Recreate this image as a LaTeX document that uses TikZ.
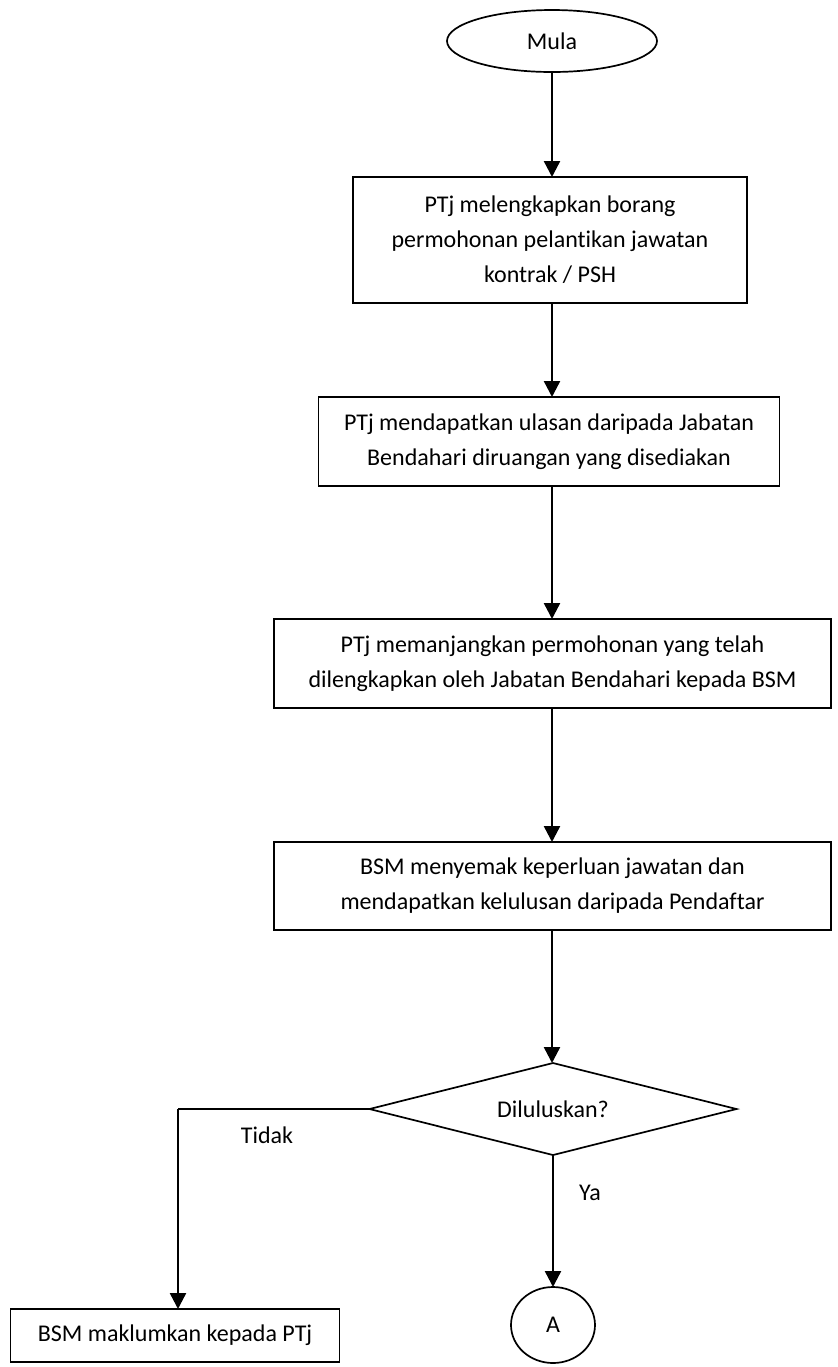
\documentclass[tikz,border=0pt]{standalone}
\usepackage{fontspec}
\setmainfont[Ligatures={NoCommon}]{Carlito}
\usetikzlibrary{shapes.geometric,arrows.meta}
\begin{document}
\begin{tikzpicture}[x=0.5pt,y=-0.5pt,
  every node/.style={font=\fontsize{12}{17.5}\selectfont, inner sep=0pt, outer sep=0pt},
  procbox/.style={draw, line width=0.85pt, rectangle, align=center},
  term/.style={draw, line width=0.85pt, ellipse},
  arr/.style={line width=1.2pt, -{Triangle[width=8pt,length=8pt]}},
  lbl/.style={}]
\useasboundingbox (0,0) rectangle (837,1367);
\node[term, minimum width=105pt, minimum height=31pt] (mula) at (552,41) {Mula};
\node[procbox, minimum width=197pt, minimum height=63pt] (b1) at (550,240)
  {PTj melengkapkan borang\\permohonan pelantikan jawatan\\kontrak / PSH};
\node[procbox, minimum width=230.5pt, minimum height=44.5pt] (b2) at (549,441.5)
  {PTj mendapatkan ulasan daripada Jabatan\\Bendahari diruangan yang disediakan};
\node[procbox, minimum width=278.5pt, minimum height=44.5pt] (b3) at (552.5,663.5)
  {PTj memanjangkan permohonan yang telah\\dilengkapkan oleh Jabatan Bendahari kepada BSM};
\node[procbox, minimum width=278.5pt, minimum height=44pt] (b4) at (552.5,886)
  {BSM menyemak keperluan jawatan dan\\mendapatkan kelulusan daripada Pendaftar};
\node[draw, line width=0.85pt, shape=diamond, aspect=4, minimum width=183.5pt, minimum height=46pt, inner sep=0pt] (dia) at (553,1109) {Diluluskan?};
\node[term, minimum width=42pt, minimum height=38pt] (A) at (553,1325) {A};
\node[procbox, minimum width=164.5pt, minimum height=26.5pt] (b5) at (175,1335.5) {BSM maklumkan kepada PTj};
\coordinate (turn) at (178,1109);
\draw[arr] (mula.south) -- (mula.south |- b1.north);
\draw[arr] (b1.south -| mula.south) -- (mula.south |- b2.north);
\draw[arr] (b2.south -| mula.south) -- (mula.south |- b3.north);
\draw[arr] (b3.south -| mula.south) -- (mula.south |- b4.north);
\draw[arr] (b4.south -| mula.south) -- (mula.south |- dia.north);
\draw[arr] (dia.south) -- (A.north);
\draw[line width=1.2pt] (dia.west) -- (turn);
\draw[arr] (turn) -- (turn |- b5.north);
\node[lbl] (tidak) at (267,1135) {Tidak};
\node[lbl] (ya) at (590,1193) {Ya};
\end{tikzpicture}
\end{document}
